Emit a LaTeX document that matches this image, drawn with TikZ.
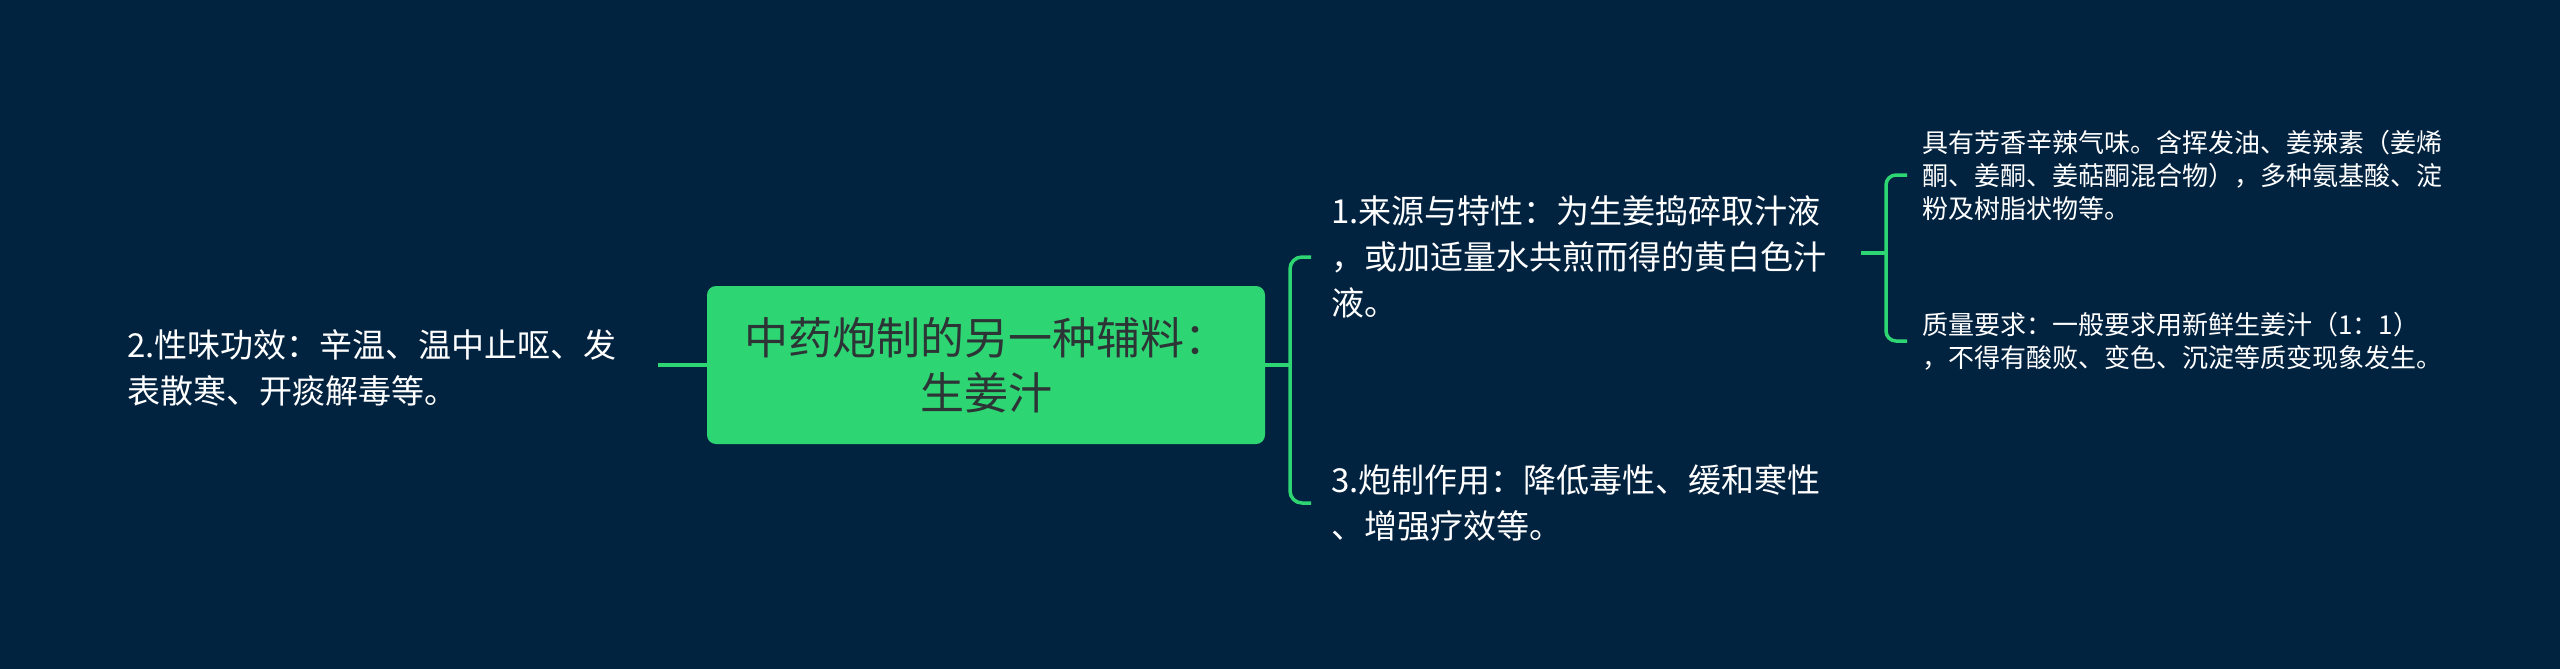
\documentclass[tikz,border=0pt]{standalone}
\usepackage{fontspec}
\setmainfont{Noto Sans CJK SC}
\definecolor{bg}{RGB}{2,35,64}
\definecolor{gr}{RGB}{46,213,115}
\definecolor{ctext}{RGB}{45,52,54}
\begin{document}
\begin{tikzpicture}[x=1pt,y=-1pt,
  conn/.style={draw=gr,line width=3.5pt},
  txt/.style={text=white,align=left,inner sep=0pt,anchor=west,font=\fontsize{33}{46}\selectfont},
  small/.style={text=white,align=left,inner sep=0pt,anchor=west,font=\fontsize{26}{33}\selectfont},
  central/.style={rounded corners=9pt,fill=gr,minimum width=558pt,minimum height=158pt,inner sep=0pt,align=center,text=ctext,font=\fontsize{44}{55}\selectfont}]
\fill[bg] (0,0) rectangle (2560,669);
\useasboundingbox (0,0) rectangle (2560,669);

\node[central] (c) at (986,365) {中药炮制的另一种辅料：\\生姜汁};

\node[txt] (lt) at (127,368) {2.性味功效：辛温、温中止呕、发\\表散寒、开痰解毒等。};
\node[txt] (t1) at (1331,257) {1.来源与特性：为生姜捣碎取汁液\\，或加适量水共煎而得的黄白色汁\\液。};
\node[txt] (t3) at (1331,503) {3.炮制作用：降低毒性、缓和寒性\\、增强疗效等。};
\node[small] (sa) at (1922,175) {具有芳香辛辣气味。含挥发油、姜辣素（姜烯\\酮、姜酮、姜萜酮混合物），多种氨基酸、淀\\粉及树脂状物等。};
\node[small] (sb) at (1922,341) {质量要求：一般要求用新鲜生姜汁（1：1）\\，不得有酸败、变色、沉淀等质变现象发生。};

\coordinate (lend) at (658,365);
\coordinate (bm) at (1290,365);
\coordinate (s0) at (1861,253);
\coordinate (sm) at (1886,253);

\draw[conn] (c.west) -- (lend);
\draw[conn] (c.east) -- (bm);
\draw[conn,rounded corners=12pt] ([xshift=-20pt]t1.west) -- ++(-21,0) |- ([xshift=-20pt]t3.west);
\draw[conn] (s0) -- (sm);
\draw[conn,rounded corners=10pt] ([xshift=-15pt]sa.west) -- ++(-21,0) |- ([xshift=-15pt]sb.west);
\end{tikzpicture}
\end{document}
